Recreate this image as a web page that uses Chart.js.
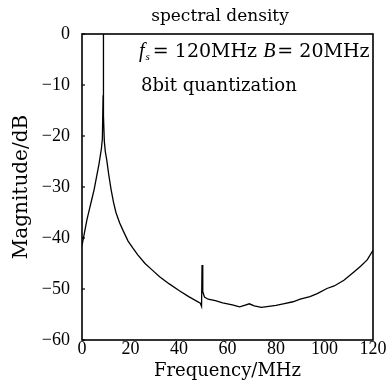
<!DOCTYPE html>
<html>
<head>
<meta charset="utf-8">
<script src="https://cdn.jsdelivr.net/npm/chart.js@4/dist/chart.umd.min.js"></script>
<style>
  html, body { margin: 0; padding: 0; background: #fff; }
  #wrap { width: 389px; height: 382px; }
</style>
</head>
<body>
<div id="wrap"><canvas id="spec"></canvas></div>
<script>
// spectral density, fs = 120 MHz, B = 20 MHz, 8bit quantization
const freq = [0, 1, 2, 3, 4, 5, 6, 7, 7.5, 8, 8.4, 8.7, 8.8, 8.9, 9.2, 9.6, 10.2, 11, 12, 13, 14, 15.5, 17, 19, 21, 23, 26, 29, 32, 36, 40, 44, 48.8, 49.3, 49.5, 49.8, 50.5, 52, 55, 58, 62, 65, 67, 69, 71, 74, 77, 80, 83, 87, 90, 94, 97, 101, 104, 108, 112, 115, 117.6, 120];
const mag = [-41.5, -39, -36.5, -34.5, -32.5, -30.5, -28, -25.5, -24, -22.5, -20.5, -12, 0, -16, -21, -23, -24.7, -27.5, -30.5, -33, -35, -37, -38.6, -40.6, -42, -43.3, -45, -46.3, -47.6, -49, -50.3, -51.5, -52.8, -53.4, -45.3, -50.5, -51.6, -52, -52.3, -52.7, -53.1, -53.5, -53.2, -52.9, -53.3, -53.6, -53.4, -53.2, -52.9, -52.5, -52, -51.5, -50.9, -49.9, -49.4, -48.3, -46.7, -45.5, -44.3, -42.4];

const xTicks = [0, 20, 40, 60, 80, 100, 120];
const yTicks = [0, -10, -20, -30, -40, -50, -60];

const title = 'spectral density';
const note2 = '8bit quantization';

const serif = '"Liberation Serif", "DejaVu Serif", serif';
const wide = '"DejaVu Serif", serif';

const frameAndText = {
  id: 'frameAndText',
  afterDraw(chart) {
    const { ctx, chartArea: a } = chart;
    ctx.save();
    ctx.strokeStyle = '#000';
    ctx.lineWidth = 1.6;
    ctx.strokeRect(a.left, a.top, a.right - a.left, a.bottom - a.top);

    // small inward ticks on the left axis
    const ys = chart.scales.y;
    ctx.lineWidth = 1.2;
    yTicks.forEach(v => {
      const py = ys.getPixelForValue(v);
      ctx.beginPath();
      ctx.moveTo(a.left, py);
      ctx.lineTo(a.left + 3, py);
      ctx.stroke();
    });

    ctx.fillStyle = '#000';
    ctx.textBaseline = 'alphabetic';
    ctx.textAlign = 'center';
    ctx.font = '17px ' + wide;
    ctx.fillText(title, 220, 21);

    // f_s = 120MHz  B = 20MHz
    ctx.textAlign = 'left';
    let x = 139, y = 57;
    ctx.font = 'italic 20px ' + serif;
    ctx.fillText('f', x, y);
    x += ctx.measureText('f').width + 1;
    ctx.font = 'italic 11px ' + serif;
    ctx.fillText('s', x, y + 3);
    x += ctx.measureText('s').width + 3;
    ctx.font = '19px ' + wide;
    const p1 = '= 120MHz ';
    ctx.fillText(p1, x, y);
    x += ctx.measureText(p1).width;
    ctx.font = 'italic 20px ' + serif;
    ctx.fillText('B', x, y);
    x += ctx.measureText('B').width + 2;
    ctx.font = '19px ' + wide;
    ctx.fillText('= 20MHz', x, y);

    ctx.font = '18px ' + wide;
    ctx.fillText(note2, 141, 91);
    ctx.restore();
  }
};

new Chart(document.getElementById('spec'), {
  type: 'line',
  data: {
    datasets: [{
      data: freq.map((f, i) => ({ x: f, y: mag[i] })),
      borderColor: '#000',
      borderWidth: 1.3,
      pointRadius: 0,
      tension: 0,
      fill: false
    }]
  },
  options: {
    responsive: true,
    maintainAspectRatio: false,
    animation: false,
    layout: { padding: { top: 34, right: 16, left: 0, bottom: 0 } },
    plugins: {
      legend: { display: false },
      tooltip: { enabled: false }
    },
    scales: {
      x: {
        type: 'linear',
        min: 0,
        max: 120,
        afterBuildTicks: s => { s.ticks = xTicks.map(v => ({ value: v })); },
        afterFit: s => { s.height = 42; },
        grid: { display: false, tickLength: 2 },
        border: { display: false },
        ticks: {
          color: '#000',
          padding: -4,
          maxRotation: 0,
          autoSkip: false,
          font: { family: serif, size: 18 }
        },
        title: {
          display: true,
          text: 'Frequency/MHz',
          color: '#000',
          padding: { top: -4, bottom: 0 },
          font: { family: wide, size: 18 }
        }
      },
      y: {
        min: -60,
        max: 0,
        afterBuildTicks: s => { s.ticks = yTicks.map(v => ({ value: v })); },
        afterFit: s => { s.width = 82; },
        grid: { display: false },
        border: { display: false },
        ticks: {
          color: '#000',
          padding: 4,
          autoSkip: false,
          font: { family: serif, size: 18 },
          callback: v => (v < 0 ? '\u2212' + Math.abs(v) : String(v))
        },
        title: {
          display: true,
          text: 'Magnitude/dB',
          color: '#000',
          padding: { top: 10, bottom: 0 },
          font: { family: wide, size: 20 }
        }
      }
    }
  },
  plugins: [frameAndText]
});
</script>
</body>
</html>
